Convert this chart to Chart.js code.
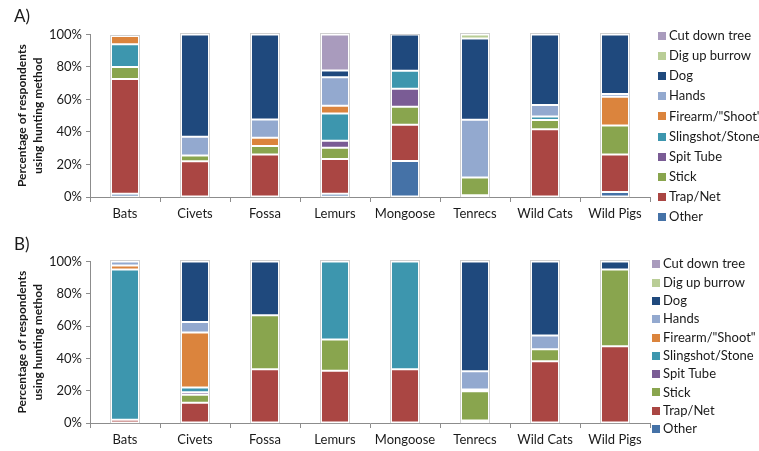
<!DOCTYPE html>
<html>
<head>
<meta charset="utf-8">
<script src="https://cdn.jsdelivr.net/npm/chart.js@4.4.1/dist/chart.umd.min.js"></script>
<style>
  html, body { margin: 0; padding: 0; background: #fff; }
  canvas { position: absolute; left: 0; }
  #chartA { top: 0; }
  #chartB { top: 226px; }
</style>
</head>
<body>
<canvas id="chartA" width="759" height="226"></canvas>
<canvas id="chartB" width="759" height="225"></canvas>
<script>
// Animal groups on the x axis
const categories = ['Bats', 'Civets', 'Fossa', 'Lemurs', 'Mongoose', 'Tenrecs', 'Wild Cats', 'Wild Pigs'];

// Hunting methods, stacked from the bottom up
const methods = ['Other', 'Trap/Net', 'Stick', 'Spit Tube', 'Slingshot/Stone', 'Firearm/"Shoot"', 'Hands', 'Dog', 'Dig up burrow', 'Cut down tree'];
const methodColors = ['#4572A7', '#AA4643', '#89A54E', '#7A5C95', '#3D96AE', '#DB843D', '#93A9CF', '#1F497D', '#B9CD96', '#A99BBD'];

// Y axis ticks (percent)
const yTicks = [0, 20, 40, 60, 80, 100];

// Panel A: percentage of respondents per method
const aOther     = [2,    0,    0,    2,    22.2, 1,    0,    3];
const aTrapNet   = [70.5, 22,   26.2, 21.3, 22.2, 0,    41.7, 23.2];
const aStick     = [7.5,  3.5,  5.1,  7,    11.1, 11,   5.7,  17.8];
const aSpitTube  = [0,    0,    0,    4.3,  11.1, 0,    0,    0];
const aSlingshot = [14,   0,    0,    16.8, 11.1, 0,    2.1,  0];
const aFirearm   = [5,    0,    5.1,  4.7,  0,    0,    0,    17.6];
const aHands     = [0,    11.5, 11.2, 17.6, 0,    35.5, 7.1,  1.8];
const aDog       = [0,    63,   52.4, 4.1,  22.2, 50,   43.4, 36.6];
const aDigBurrow = [0,    0,    0,    0,    0,    2.5,  0,    0];
const aCutTree   = [0,    0,    0,    22.2, 0,    0,    0,    0];

// Panel B: percentage of respondents per method
const bOther     = [0,    0,    0,    0,    0,    0.8,  0,    0];
const bTrapNet   = [2,    12.5, 33.3, 32.3, 33.3, 0.8,  38.2, 47.5];
const bStick     = [0,    5,    33.3, 19.4, 0,    18,   7.5,  47.5];
const bSpitTube  = [0,    1.5,  0,    0,    0,    0,    0,    0];
const bSlingshot = [93,   3,    0,    48.3, 66.7, 1.2,  0,    0];
const bFirearm   = [2.5,  34,   0,    0,    0,    0,    0,    0];
const bHands     = [2.5,  6.5,  0,    0,    0,    11.2, 8.4,  0];
const bDog       = [0,    37.5, 33.4, 0,    0,    68,   45.9, 5];
const bDigBurrow = [0,    0,    0,    0,    0,    0,    0,    0];
const bCutTree   = [0,    0,    0,    0,    0,    0,    0,    0];

const seriesA = [aOther, aTrapNet, aStick, aSpitTube, aSlingshot, aFirearm, aHands, aDog, aDigBurrow, aCutTree];
const seriesB = [bOther, bTrapNet, bStick, bSpitTube, bSlingshot, bFirearm, bHands, bDog, bDigBurrow, bCutTree];

Chart.defaults.font.family = 'Lato, "Liberation Sans", sans-serif';
Chart.defaults.color = '#1a1a1a';

// Light outline around each full stacked column
const columnOutline = {
  id: 'columnOutline',
  afterDatasetsDraw(chart) {
    const ctx = chart.ctx;
    const meta = chart.getDatasetMeta(0);
    const y = chart.scales.y;
    ctx.save();
    ctx.strokeStyle = 'rgba(170,170,170,0.55)';
    ctx.lineWidth = 1;
    meta.data.forEach((bar, i) => {
      let total = 0;
      chart.data.datasets.forEach(ds => { total += ds.data[i] || 0; });
      const top = y.getPixelForValue(total);
      const bottom = y.getPixelForValue(0);
      const half = bar.width / 2;
      ctx.strokeRect(Math.round(bar.x - half) - 0.5, Math.round(top) - 0.5, Math.round(bar.width) + 1, Math.round(bottom - top) + 1);
    });
    ctx.restore();
  }
};

// Legend drawn down the right-hand side, top entry = top of the stack
const sideLegend = {
  id: 'sideLegend',
  afterDraw(chart, args, opts) {
    const ctx = chart.ctx;
    const items = chart.data.datasets.map(ds => ({ label: ds.label, color: ds.backgroundColor })).reverse();
    ctx.save();
    ctx.font = '13px Lato, "Liberation Sans", sans-serif';
    ctx.textBaseline = 'middle';
    ctx.textAlign = 'left';
    items.forEach((it, i) => {
      const cy = opts.top + i * opts.step;
      ctx.fillStyle = it.color;
      ctx.fillRect(opts.x, Math.round(cy - 4), 8, 8);
      ctx.fillStyle = '#1a1a1a';
      ctx.fillText(it.label, opts.x + 11, cy);
    });
    ctx.restore();
  }
};

function makePanel(canvasId, letter, series, titlePad, xAxisHeight, legendOpts) {
  const datasets = methods.map((name, k) => ({
    label: name,
    data: series[k],
    backgroundColor: methodColors[k],
    borderColor: '#ffffff',
    borderWidth: 1,
    borderSkipped: false,
    barPercentage: 0.4,
    categoryPercentage: 1.0
  }));

  return new Chart(document.getElementById(canvasId), {
    type: 'bar',
    data: { labels: categories, datasets },
    plugins: [columnOutline, sideLegend],
    options: {
      responsive: false,
      animation: false,
      devicePixelRatio: 1,
      layout: { padding: { left: 14, right: 109, top: 0, bottom: 0 } },
      plugins: {
        legend: { display: false },
        tooltip: { enabled: false },
        title: {
          display: true,
          text: letter,
          align: 'start',
          color: '#1a1a1a',
          font: { size: 17, weight: 'normal', lineHeight: 1.2 },
          padding: titlePad
        },
        sideLegend: legendOpts
      },
      scales: {
        x: {
          stacked: true,
          grid: { offset: true, drawOnChartArea: false, drawTicks: true, tickLength: 5, color: '#8c8c8c' },
          border: { display: true, color: '#8c8c8c', width: 1 },
          ticks: { padding: 4, font: { size: 13 }, color: '#1a1a1a', maxRotation: 0 },
          afterFit(scale) { scale.height = xAxisHeight; }
        },
        y: {
          stacked: true,
          min: 0,
          max: 100,
          afterBuildTicks(scale) { scale.ticks = yTicks.map(v => ({ value: v })); },
          grid: { drawOnChartArea: false, drawTicks: true, tickLength: 4, color: '#8c8c8c' },
          border: { display: true, color: '#8c8c8c', width: 1 },
          ticks: { padding: 4, font: { size: 13 }, color: '#1a1a1a', callback: v => v + '%' },
          title: {
            display: true,
            text: ['Percentage of respondents', 'using hunting method'],
            color: '#1a1a1a',
            font: { size: 12, weight: 'bold', lineHeight: 1.35 },
            padding: { top: 0, bottom: 0 }
          },
          afterFit(scale) { scale.width = 76; }
        }
      }
    }
  });
}

makePanel('chartA', 'A)', seriesA, { top: 6, bottom: 8 }, 29, { x: 658, top: 36, step: 20.1 });
makePanel('chartB', 'B)', seriesB, { top: 8, bottom: 7 }, 28, { x: 652, top: 38.3, step: 18.3 });
</script>
</body>
</html>
